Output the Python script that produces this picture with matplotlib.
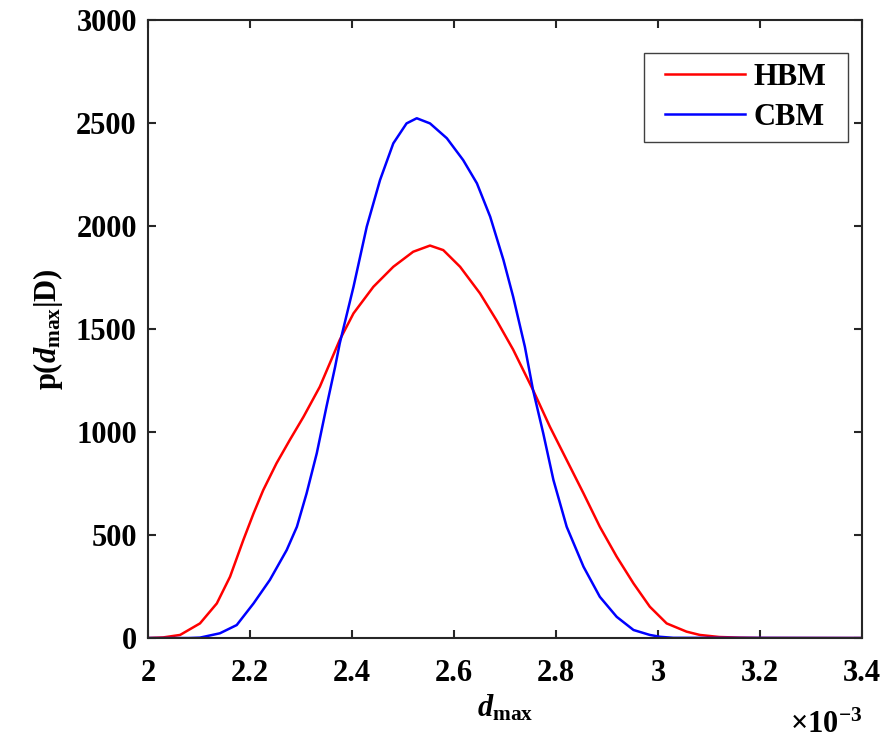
import matplotlib
matplotlib.use('Agg')
import matplotlib.pyplot as plt
from matplotlib.patches import Rectangle

# d_max in units of 1e-3 (axis shows x10^-3)
hbm_x = [2.00, 2.03, 2.063, 2.102, 2.135, 2.161, 2.187, 2.207, 2.226, 2.252, 2.278,
         2.305, 2.337, 2.376, 2.403, 2.442, 2.481, 2.520, 2.553, 2.579, 2.612, 2.651,
         2.684, 2.716, 2.755, 2.788, 2.821, 2.854, 2.886, 2.919, 2.952, 2.984, 3.017,
         3.056, 3.082, 3.12, 3.16, 3.20, 3.40]
hbm_y = [0, 3, 15, 71, 168, 298, 476, 605, 718, 848, 961,
         1074, 1220, 1447, 1576, 1705, 1802, 1875, 1905, 1883, 1802, 1673,
         1540, 1400, 1204, 1026, 864, 702, 540, 395, 265, 152, 71,
         31, 15, 5, 2, 0.5, 0]

cbm_x = [2.00, 2.08, 2.102, 2.141, 2.174, 2.207, 2.239, 2.272, 2.292, 2.311, 2.331,
         2.350, 2.367, 2.376, 2.403, 2.429, 2.455, 2.481, 2.507, 2.527, 2.553, 2.586,
         2.618, 2.645, 2.671, 2.697, 2.716, 2.739, 2.755, 2.775, 2.795, 2.821, 2.854,
         2.886, 2.919, 2.952, 2.984, 3.004, 3.03, 3.40]
cbm_y = [0, 0, 2, 23, 63, 168, 282, 427, 540, 702, 897,
         1123, 1317, 1430, 1705, 1997, 2223, 2401, 2498, 2523, 2498, 2426,
         2320, 2207, 2045, 1835, 1657, 1414, 1204, 994, 767, 540, 346,
         200, 103, 39, 15, 6, 1, 0]

xticks = [2, 2.2, 2.4, 2.6, 2.8, 3, 3.2, 3.4]
xtick_labels = ['2', '2.2', '2.4', '2.6', '2.8', '3', '3.2', '3.4']
yticks = [0, 500, 1000, 1500, 2000, 2500, 3000]

plt.rcParams['font.family'] = ['Liberation Serif', 'DejaVu Serif']
plt.rcParams['font.weight'] = 'bold'
plt.rcParams['axes.labelweight'] = 'bold'
plt.rcParams['mathtext.fontset'] = 'custom'
plt.rcParams['mathtext.rm'] = 'Liberation Serif:bold'
plt.rcParams['mathtext.it'] = 'Liberation Serif:italic:bold'
plt.rcParams['mathtext.bf'] = 'Liberation Serif:bold'

fig = plt.figure(figsize=(8.85, 7.40), dpi=100)
ax = fig.add_axes([0.1672, 0.1378, 0.8068, 0.8352])

ax.plot(hbm_x, hbm_y, color='#ff0000', lw=1.8, label='HBM')
ax.plot(cbm_x, cbm_y, color='#0000ff', lw=1.8, label='CBM')

ax.set_xlim(2, 3.4)
ax.set_ylim(0, 3000)
ax.set_xticks(xticks)
ax.set_xticklabels(xtick_labels)
ax.set_yticks(yticks)

for s in ax.spines.values():
    s.set_linewidth(1.5)
    s.set_color('#262626')
ax.tick_params(direction='in', length=6, width=1.5, color='#262626',
               labelsize=22, top=True, right=True)
ax.tick_params(axis='x', pad=15)
ax.tick_params(axis='y', pad=8)

ax.set_xlabel(r'$\mathit{d}_{\mathrm{max}}$', fontsize=22, labelpad=4)
ax.set_ylabel(r'p($\mathit{d}_{\mathrm{max}}$|D)', fontsize=22, labelpad=8)
ax.text(1.0, -0.117, r'$\times\mathrm{10^{-3}}$', transform=ax.transAxes,
        ha='right', va='top', fontsize=22)

# legend box drawn separately (MATLAB-like padding)
ax.add_patch(Rectangle((0.6947, 0.8026), 0.2857, 0.1440, transform=ax.transAxes,
                       facecolor='white', edgecolor='#404040', lw=1.0, zorder=4))
leg = ax.legend(loc='center', bbox_to_anchor=(0.8376, 0.8746), fontsize=22,
                handlelength=2.6, handletextpad=0.3, labelspacing=0.35,
                borderpad=0, borderaxespad=0, frameon=False)
leg.set_zorder(5)

fig.savefig('out.png', dpi=100)
